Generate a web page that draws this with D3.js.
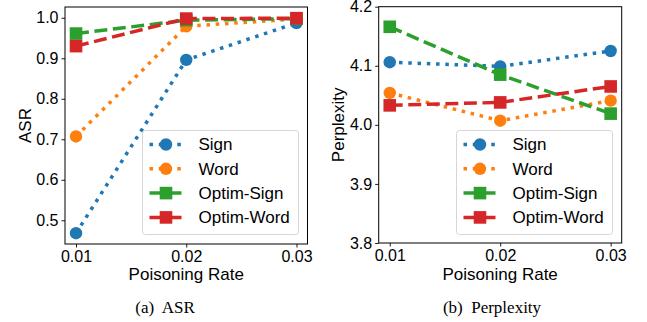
<!DOCTYPE html>
<html>
<head>
<meta charset="utf-8">
<script src="https://cdn.jsdelivr.net/npm/d3@7"></script>
<style>
  html, body { margin: 0; padding: 0; background: #fff; }
  svg text { font-family: "Liberation Sans", Arial, sans-serif; fill: #000; }
</style>
</head>
<body>
<svg id="chart" width="647" height="322"></svg>
<script>
// Poisoning rates on the x axis
const rates = [0.01, 0.02, 0.03];
const rateLabels = ["0.01", "0.02", "0.03"];

// Series names, in drawing order
const seriesNames = ["Sign", "Word", "Optim-Sign", "Optim-Word"];

// Attack success rate per series
const asrSign = [0.468, 0.896, 0.987];
const asrWord = [0.707, 0.979, 0.997];
const asrOptimSign = [0.961, 0.994, 0.998];
const asrOptimWord = [0.930, 0.998, 0.999];

// Perplexity per series
const pplSign = [4.106, 4.099, 4.125];
const pplWord = [4.054, 4.007, 4.041];
const pplOptimSign = [4.166, 4.085, 4.019];
const pplOptimWord = [4.033, 4.038, 4.065];

// Tick values
const asrTicks = [0.5, 0.6, 0.7, 0.8, 0.9, 1.0];
const pplTicks = [3.8, 3.9, 4.0, 4.1, 4.2];

const colors = ["#1f77b4", "#ff7f0e", "#2ca02c", "#d62728"];
const lineW = 3.5;
const dotted = `${lineW},${(lineW * 1.65).toFixed(2)}`;
const dashed = `${(lineW * 3.7).toFixed(2)},${(lineW * 1.6).toFixed(2)}`;
const dashes = [dotted, dotted, dashed, dashed];
const markers = ["circle", "circle", "square", "square"];

const svg = d3.select("#chart");

function drawMarker(parent, kind, cx, cy, color) {
  if (kind === "circle") {
    parent.append("circle").attr("cx", cx).attr("cy", cy).attr("r", 6.2)
      .attr("fill", color);
  } else {
    parent.append("rect").attr("x", cx - 6.3).attr("y", cy - 6.3)
      .attr("width", 12.6).attr("height", 12.6).attr("fill", color);
  }
}

function drawPanel(opt) {
  const g = svg.append("g");
  const x = d3.scaleLinear()
    .domain([0.01 - 0.001, 0.03 + 0.001])
    .range([opt.left, opt.right]);
  const y = d3.scaleLinear().domain(opt.yDomain).range([opt.bottom, opt.top]);

  // axes
  const xAxis = d3.axisBottom(x).tickValues(rates)
    .tickFormat((d, i) => rateLabels[i]).tickSize(3.5).tickPadding(3);
  const yAxis = d3.axisLeft(y).tickValues(opt.ticks)
    .tickFormat(d3.format(".1f")).tickSize(3.5).tickPadding(3);

  const gx = g.append("g").attr("transform", `translate(0,${opt.bottom})`).call(xAxis);
  const gy = g.append("g").attr("transform", `translate(${opt.left},0)`).call(yAxis);
  [gx, gy].forEach(a => {
    a.select(".domain").remove();
    a.selectAll("text").style("font-size", "16px").style("fill", "#000");
    a.selectAll("line").attr("stroke", "#000").attr("stroke-width", 0.9);
  });

  // series lines and markers
  opt.data.forEach((vals, i) => {
    const pts = vals.map((v, j) => [x(rates[j]), y(v)]);
    g.append("path")
      .attr("d", d3.line()(pts))
      .attr("fill", "none")
      .attr("stroke", colors[i])
      .attr("stroke-width", lineW)
      .attr("stroke-dasharray", dashes[i]);
    pts.forEach(p => drawMarker(g, markers[i], p[0], p[1], colors[i]));
  });

  // plot frame
  g.append("rect")
    .attr("x", opt.left).attr("y", opt.top)
    .attr("width", opt.right - opt.left).attr("height", opt.bottom - opt.top)
    .attr("fill", "none").attr("stroke", "#000").attr("stroke-width", 1);

  // axis titles
  g.append("text")
    .attr("x", (opt.left + opt.right) / 2).attr("y", 280)
    .attr("text-anchor", "middle").style("font-size", "17px")
    .text("Poisoning Rate");
  g.append("text")
    .attr("transform", `translate(${opt.yLabelX},${(opt.top + opt.bottom) / 2}) rotate(-90)`)
    .attr("text-anchor", "middle").style("font-size", "17px")
    .text(opt.yLabel);

  // legend
  const lg = g.append("g");
  lg.append("rect")
    .attr("x", opt.legX).attr("y", 130.5)
    .attr("width", 156).attr("height", 104)
    .attr("rx", 3).attr("ry", 3)
    .attr("fill", "rgba(255,255,255,0.8)")
    .attr("stroke", "#d6d6d6").attr("stroke-width", 1);
  seriesNames.forEach((name, i) => {
    const ry = 144.5 + i * 24.3;
    const lx0 = opt.legX + 7, lx1 = opt.legX + 39, mx = opt.legX + 23.5;
    lg.append("line")
      .attr("x1", lx0).attr("x2", lx1).attr("y1", ry).attr("y2", ry)
      .attr("stroke", colors[i]).attr("stroke-width", lineW)
      .attr("stroke-dasharray", markers[i] === "circle" ? dotted : null);
    drawMarker(lg, markers[i], mx, ry, colors[i]);
    lg.append("text")
      .attr("x", opt.legX + 56).attr("y", ry).attr("dy", "0.35em")
      .style("font-size", "17px").text(name);
  });

  // caption
  svg.append("text")
    .attr("x", opt.capX).attr("y", 313)
    .attr("text-anchor", "middle").style("font-size", "17px")
    .style("font-family", "'Liberation Serif', 'DejaVu Serif', serif")
    .attr("xml:space", "preserve")
    .text(opt.caption);
}

drawPanel({
  left: 65, right: 307.5, top: 7, bottom: 244,
  yDomain: [0.4414, 1.0266], ticks: asrTicks,
  data: [asrSign, asrWord, asrOptimSign, asrOptimWord],
  yLabel: "ASR", yLabelX: 31, legX: 142.5,
  caption: "(a)  ASR", capX: 165
});

drawPanel({
  left: 378.7, right: 621.7, top: 6.7, bottom: 243,
  yDomain: [3.8, 4.2], ticks: pplTicks,
  data: [pplSign, pplWord, pplOptimSign, pplOptimWord],
  yLabel: "Perplexity", yLabelX: 344, legX: 456.5,
  caption: "(b)  Perplexity", capX: 492
});
</script>
</body>
</html>
